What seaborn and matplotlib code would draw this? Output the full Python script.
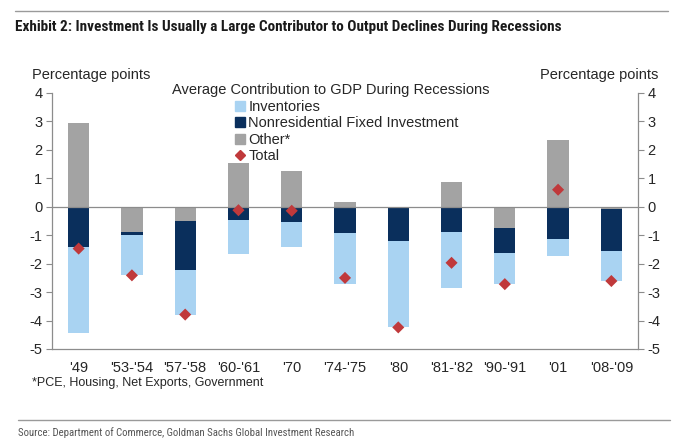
import matplotlib
matplotlib.use("Agg")
import matplotlib.pyplot as plt
import seaborn as sns
import pandas as pd
import numpy as np
from matplotlib.lines import Line2D

categories = ["'49", "'53-'54", "'57-'58", "'60-'61", "'70", "'74-'75", "'80",
              "'81-'82", "'90-'91", "'01", "'08-'09"]
other = [2.96, -0.87, -0.51, 1.55, 1.27, 0.18, 0.0, 0.87, -0.73, 2.35, -0.07]
nonres = [-1.42, -0.13, -1.72, -0.45, -0.53, -0.93, -1.19, -0.88, -0.88, -1.14, -1.50]
inventories = [-3.00, -1.41, -1.56, -1.22, -0.88, -1.77, -3.05, -1.99, -1.11, -0.60, -1.04]
total = [-1.47, -2.41, -3.79, -0.12, -0.14, -2.50, -4.24, -1.97, -2.72, 0.60, -2.61]
y_ticks = [4, 3, 2, 1, 0, -1, -2, -3, -4, -5]

c_inv = "#A9D3F2"
c_non = "#0A2F5C"
c_oth = "#A3A3A3"
c_tot = "#C0393B"
axis_gray = "#8C8C8C"

sns.set_style("white")
plt.rcParams["font.family"] = ["Liberation Sans", "DejaVu Sans"]

fig = plt.figure(figsize=(6.75, 4.41), dpi=100)
ax = fig.add_axes([52 / 675, 1 - 349 / 441, (638 - 52) / 675, (349 - 93) / 441])

# stacking: Other first, then Nonresidential, then Inventories
series = [("Other*", other, c_oth), ("Nonres", nonres, c_non), ("Inventories", inventories, c_inv)]
pos_base = np.zeros(len(categories))
neg_base = np.zeros(len(categories))
for name, vals, col in series:
    v = np.array(vals)
    bottoms = np.where(v >= 0, pos_base, neg_base)
    df = pd.DataFrame({"cat": categories, "val": v})
    sns.barplot(data=df, x="cat", y="val", bottom=bottoms, color=col, width=0.4,
                saturation=1, ax=ax, edgecolor="none", linewidth=0, errorbar=None)
    pos_base = pos_base + np.where(v >= 0, v, 0)
    neg_base = neg_base + np.where(v < 0, v, 0)

dft = pd.DataFrame({"cat": categories, "val": total})
sns.scatterplot(data=dft, x="cat", y="val", marker="D", s=38, color=c_tot,
                edgecolor="none", ax=ax, zorder=5)

ax.set_xlim(-0.5, len(categories) - 0.5)
ax.set_ylim(-5, 4)
ax.axhline(0, color=axis_gray, lw=0.9, zorder=1)
ax.set_yticks(y_ticks)
ax.set_yticklabels([str(t) for t in y_ticks], fontsize=10.5)
ax.set_xticks(range(len(categories)))
ax.set_xticklabels(categories, fontsize=10.5)
ax.set_xticks(np.arange(-0.5, len(categories) + 0.5, 1), minor=True)
ax.tick_params(axis="x", which="major", length=0, pad=9)
ax.tick_params(axis="x", which="minor", length=4, color=axis_gray, direction="out")
ax.tick_params(axis="y", length=4, color=axis_gray, direction="out", pad=3)
ax.set_xlabel("")
ax.set_ylabel("")
for s in ["left", "right", "bottom"]:
    ax.spines[s].set_color(axis_gray)
    ax.spines[s].set_linewidth(0.9)
ax.spines["top"].set_visible(False)

ax2 = ax.twinx()
ax2.set_ylim(-5, 4)
ax2.set_yticks(y_ticks)
ax2.set_yticklabels([str(t) for t in y_ticks], fontsize=10.5)
ax2.tick_params(axis="y", length=4, color=axis_gray, direction="out", pad=3)
for s in ["left", "right", "bottom", "top"]:
    ax2.spines[s].set_visible(False)

# legend
handles = [
    Line2D([], [], marker="s", ls="none", color=c_inv, markersize=7),
    Line2D([], [], marker="s", ls="none", color=c_non, markersize=7),
    Line2D([], [], marker="s", ls="none", color=c_oth, markersize=7),
    Line2D([], [], marker="D", ls="none", color=c_tot, markersize=5),
]
labels = ["Inventories", "Nonresidential Fixed Investment", "Other*", "Total"]
fig.legend(handles, labels, loc="upper left", bbox_to_anchor=(236 / 675, 1 - 100 / 441),
           frameon=False, fontsize=10.5, handlelength=0.6, handletextpad=0.25,
           labelspacing=0.16, borderpad=0, borderaxespad=0)
fig.text(331 / 675, 1 - 90 / 441, "Average Contribution to GDP During Recessions",
         fontsize=10.5, ha="center", va="center")

fig.text(32 / 675, 1 - 75 / 441, "Percentage points", fontsize=10.5, ha="left", va="center")
fig.text(658 / 675, 1 - 75 / 441, "Percentage points", fontsize=10.5, ha="right", va="center")
fig.text(32 / 675, 1 - 383 / 441, "*PCE, Housing, Net Exports, Government", fontsize=9,
         ha="left", va="center")

# header / footer
fig.add_artist(Line2D([15 / 675, 668 / 675], [1 - 11 / 441, 1 - 11 / 441], color="#9A9A9A", lw=1))
fig.text(15 / 675, 1 - 27 / 441,
         "Exhibit 2: Investment Is Usually a Large Contributor to Output Declines During Recessions",
         fontsize=11, fontweight="bold", family=["Roboto Condensed", "DejaVu Sans"],
         ha="left", va="center", color="#1a1a1a")
fig.add_artist(Line2D([18 / 675, 670 / 675], [1 - 420 / 441, 1 - 420 / 441], color="#9A9A9A", lw=1))
fig.text(18 / 675, 1 - 433 / 441,
         "Source: Department of Commerce, Goldman Sachs Global Investment Research",
         fontsize=7.75, family=["Roboto Condensed", "DejaVu Sans"],
         ha="left", va="center", color="#555555")

fig.savefig("out.png", dpi=100)
